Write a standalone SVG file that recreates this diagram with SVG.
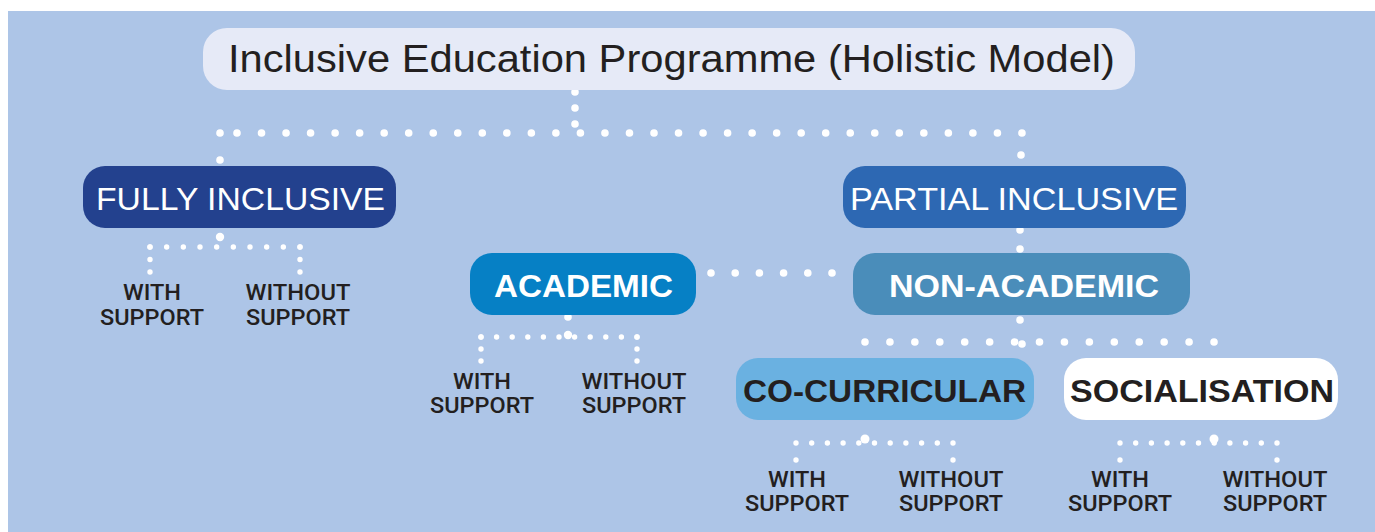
<svg xmlns="http://www.w3.org/2000/svg" width="1375" height="532" viewBox="0 0 1375 532">
<style>
.bg{fill:#ADC5E7}
.box{stroke:none}
.t{font-family:"Liberation Sans",Arial,sans-serif;text-anchor:middle}
.m{font-family:Roboto,"Liberation Sans",Arial,sans-serif;font-weight:500}
.big{font-size:32px;fill:#fff}
.bold{font-weight:bold}
.dark{fill:#231F20}
.sub{font-size:21.5px;fill:#231F20}
.d{stroke:#fff;stroke-linecap:round;fill:none}
.d1{stroke-width:7.6}
.d2{stroke-width:5.4}
.dot{fill:#fff}
</style>
<rect class="bg" x="8" y="11" width="1367" height="521"/>
<g id="connectors">
  <line class="d d1" x1="575" y1="92" x2="575" y2="124.5" stroke-dasharray="0 16"/>
  <circle class="dot" cx="220" cy="133" r="3.8"/>
  <line class="d d1" x1="237" y1="133" x2="1022.5" y2="133" stroke-dasharray="0 24.53"/>
  <circle class="dot" cx="220" cy="160" r="3.8"/>
  <circle class="dot" cx="1021" cy="155" r="3.8"/>
  <circle class="dot" cx="1020" cy="230" r="3.8"/>
  <circle class="dot" cx="1020" cy="249" r="3.8"/>
  <line class="d d1" x1="711" y1="273" x2="833" y2="273" stroke-dasharray="0 24.2"/>
  <circle class="dot" cx="1020" cy="320" r="3.8"/>
  <line class="d d1" x1="865" y1="342" x2="1215" y2="342" stroke-dasharray="0 24.93"/>
  <circle class="dot" cx="1022" cy="344" r="3.8"/>
  <!-- fully inclusive sub -->
  <circle class="dot" cx="220" cy="237" r="4.2"/>
  <line class="d d2" x1="150" y1="247" x2="300.5" y2="247" stroke-dasharray="0 16.667"/>
  <line class="d d2" x1="150" y1="247" x2="150" y2="272.5" stroke-dasharray="0 12.5"/>
  <line class="d d2" x1="300" y1="247" x2="300" y2="272.5" stroke-dasharray="0 12.5"/>
  <!-- academic sub -->
  <circle class="dot" cx="568" cy="317" r="3.8"/>
  <circle class="dot" cx="568" cy="335" r="4.2"/>
  <line class="d d2" x1="481" y1="337" x2="637.5" y2="337" stroke-dasharray="0 15.6"/>
  <line class="d d2" x1="481" y1="337" x2="481" y2="361.5" stroke-dasharray="0 12"/>
  <line class="d d2" x1="637" y1="337" x2="637" y2="361.5" stroke-dasharray="0 12"/>
  <!-- co-curricular sub -->
  <circle class="dot" cx="865" cy="439" r="4.5"/>
  <line class="d d2" x1="796" y1="443" x2="953.5" y2="443" stroke-dasharray="0 15.7"/>
  <circle class="dot" cx="796" cy="460" r="2.7"/>
  <circle class="dot" cx="953" cy="460" r="2.7"/>
  <!-- socialisation sub -->
  <circle class="dot" cx="1214" cy="439" r="4.5"/>
  <line class="d d2" x1="1120" y1="443" x2="1277.5" y2="443" stroke-dasharray="0 15.7"/>
  <circle class="dot" cx="1120" cy="460" r="2.7"/>
  <circle class="dot" cx="1277" cy="460" r="2.7"/>
</g>
<g id="title">
  <rect class="box" x="203" y="28" width="932" height="62" rx="24" fill="#E6EAF7"/>
  <text class="t dark" x="671.5" y="72" font-size="38" textLength="887" lengthAdjust="spacingAndGlyphs">Inclusive Education Programme (Holistic Model)</text>
</g>
<g id="fully">
  <rect class="box" x="83" y="166" width="313" height="62" rx="22" fill="#23418E"/>
  <text class="t big" x="240.5" y="210" textLength="289" lengthAdjust="spacingAndGlyphs">FULLY INCLUSIVE</text>
</g>
<g id="partial">
  <rect class="box" x="843" y="166" width="343" height="62" rx="22" fill="#2D68B3"/>
  <text class="t big" x="1014" y="210" textLength="328" lengthAdjust="spacingAndGlyphs">PARTIAL INCLUSIVE</text>
</g>
<g id="academic">
  <rect class="box" x="470" y="253" width="226" height="62" rx="22" fill="#0680C5"/>
  <text class="t big bold" x="583.5" y="297" textLength="179" lengthAdjust="spacingAndGlyphs">ACADEMIC</text>
</g>
<g id="nonacademic">
  <rect class="box" x="853" y="253" width="337" height="62" rx="22" fill="#4A8DBA"/>
  <text class="t big bold" x="1024" y="297" textLength="270" lengthAdjust="spacingAndGlyphs">NON-ACADEMIC</text>
</g>
<g id="cocurricular">
  <rect class="box" x="736" y="358" width="298" height="62" rx="22" fill="#6AB1E1"/>
  <text class="t big bold dark" x="884.5" y="402" font-size="31" textLength="283" lengthAdjust="spacingAndGlyphs">CO-CURRICULAR</text>
</g>
<g id="socialisation">
  <rect class="box" x="1064" y="358" width="274" height="62" rx="22" fill="#FFFFFF"/>
  <text class="t big bold dark" x="1202" y="402" font-size="31" textLength="264" lengthAdjust="spacingAndGlyphs">SOCIALISATION</text>
</g>
<g id="fully-with"><text class="t m sub" x="152" y="300" textLength="58" lengthAdjust="spacingAndGlyphs">WITH</text><text class="t m sub" x="152" y="325" textLength="104" lengthAdjust="spacingAndGlyphs">SUPPORT</text></g>
<g id="fully-without"><text class="t m sub" x="298" y="300" textLength="105" lengthAdjust="spacingAndGlyphs">WITHOUT</text><text class="t m sub" x="298" y="325" textLength="104" lengthAdjust="spacingAndGlyphs">SUPPORT</text></g>
<g id="academic-with"><text class="t m sub" x="482" y="389" textLength="58" lengthAdjust="spacingAndGlyphs">WITH</text><text class="t m sub" x="482" y="413" textLength="104" lengthAdjust="spacingAndGlyphs">SUPPORT</text></g>
<g id="academic-without"><text class="t m sub" x="634" y="389" textLength="105" lengthAdjust="spacingAndGlyphs">WITHOUT</text><text class="t m sub" x="634" y="413" textLength="104" lengthAdjust="spacingAndGlyphs">SUPPORT</text></g>
<g id="co-with"><text class="t m sub" x="797" y="487" textLength="58" lengthAdjust="spacingAndGlyphs">WITH</text><text class="t m sub" x="797" y="511" textLength="104" lengthAdjust="spacingAndGlyphs">SUPPORT</text></g>
<g id="co-without"><text class="t m sub" x="951" y="487" textLength="105" lengthAdjust="spacingAndGlyphs">WITHOUT</text><text class="t m sub" x="951" y="511" textLength="104" lengthAdjust="spacingAndGlyphs">SUPPORT</text></g>
<g id="soc-with"><text class="t m sub" x="1120" y="487" textLength="58" lengthAdjust="spacingAndGlyphs">WITH</text><text class="t m sub" x="1120" y="511" textLength="104" lengthAdjust="spacingAndGlyphs">SUPPORT</text></g>
<g id="soc-without"><text class="t m sub" x="1275" y="487" textLength="105" lengthAdjust="spacingAndGlyphs">WITHOUT</text><text class="t m sub" x="1275" y="511" textLength="104" lengthAdjust="spacingAndGlyphs">SUPPORT</text></g>
</svg>
